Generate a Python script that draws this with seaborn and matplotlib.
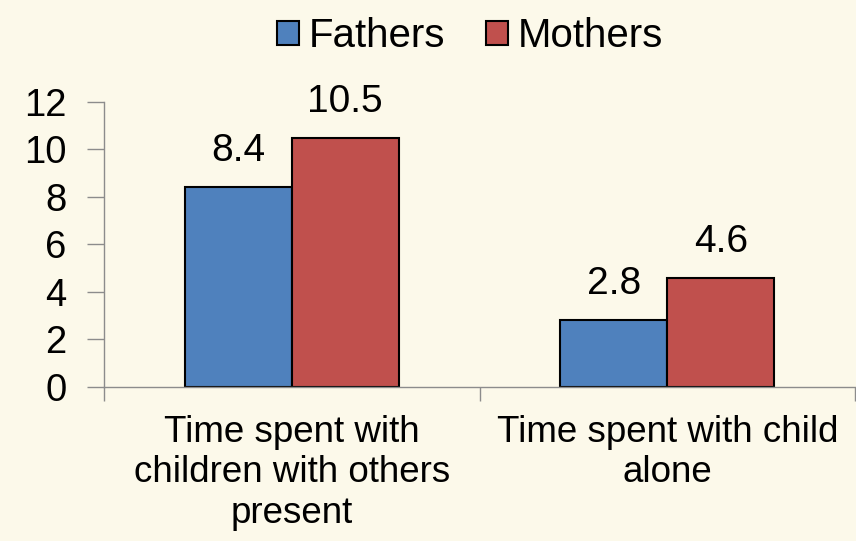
import numpy as np
import pandas as pd
import matplotlib.pyplot as plt
import seaborn as sns

categories = ["Time spent with\nchildren with others\npresent", "Time spent with child\nalone"]
fathers = [8.4, 2.8]
mothers = [10.5, 4.6]
series = ["Fathers", "Mothers"]
y_ticks = [0, 2, 4, 6, 8, 10, 12]

COLORS = {"Fathers": "#4F81BD", "Mothers": "#C0504D"}
BG = "#FCF9EA"

df = pd.DataFrame({
    "Category": categories * 2,
    "Parent": ["Fathers"] * len(fathers) + ["Mothers"] * len(mothers),
    "Hours": fathers + mothers,
})

sns.set_style("white")
plt.rcParams["font.family"] = ["Liberation Sans", "DejaVu Sans"]
plt.rcParams["text.color"] = "black"
plt.rcParams["xtick.color"] = "black"
plt.rcParams["ytick.color"] = "black"

fig = plt.figure(figsize=(8.56, 5.41), dpi=100, facecolor=BG)
ax = fig.add_axes([0.1215, 0.2847, 0.8775, 0.5268])
ax.set_facecolor(BG)

sns.barplot(
    data=df, x="Category", y="Hours", hue="Parent",
    order=categories, hue_order=series, palette=COLORS, saturation=1,
    width=0.57, gap=0, errorbar=None,
    edgecolor="black", linewidth=1.5, ax=ax,
)

for cont in ax.containers:
    ax.bar_label(cont, fmt="%.1f", padding=13, fontsize=28, color="black")

ax.set_ylim(0, 12)
ax.set_xlim(-0.5, 1.5)
ax.set_yticks(y_ticks)
ax.set_yticklabels([str(t) for t in y_ticks], fontsize=27.5)
ax.set_xticks([0, 1])
ax.set_xticklabels(categories, fontsize=26.5, linespacing=1.2)
ax.tick_params(axis="x", length=0, pad=20)
ax.tick_params(axis="y", length=12, width=1, color="#8C8C8C", labelcolor="black", pad=15, left=True)

# category boundary ticks on x axis
ax.set_xticks([-0.5, 0.5, 1.5], minor=True)
ax.tick_params(axis="x", which="minor", length=10, width=1, color="#8C8C8C", bottom=True)

for side in ["top", "right"]:
    ax.spines[side].set_visible(False)
for side in ["left", "bottom"]:
    ax.spines[side].set_color("#8C8C8C")
    ax.spines[side].set_linewidth(1)

ax.set_xlabel("")
ax.set_ylabel("")

ax.legend(
    loc="lower center", bbox_to_anchor=(0.487, 1.108), ncol=2, frameon=False,
    fontsize=29, handlelength=0.55, handleheight=0.55, handletextpad=0.25,
    columnspacing=1.0, borderaxespad=0,
)

fig.savefig("out.png", dpi=100, facecolor=BG)
